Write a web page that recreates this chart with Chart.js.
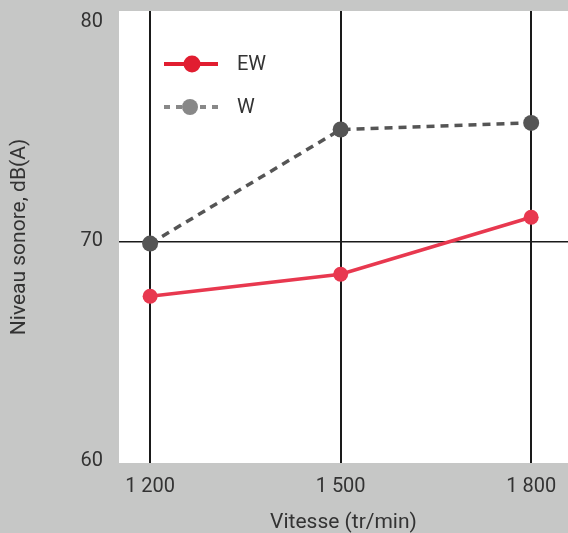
<!DOCTYPE html>
<html>
<head>
<meta charset="utf-8">
<script src="https://cdn.jsdelivr.net/npm/chart.js@4/dist/chart.umd.min.js"></script>
<style>
  html, body { margin: 0; padding: 0; background: #c6c7c6; }
  #wrap { width: 568px; height: 533px; position: relative; }
</style>
</head>
<body>
<div id="wrap"><canvas id="chart"></canvas></div>
<script>
// data
const speeds = [1200, 1500, 1800];
const ewLevels = [67.5, 68.5, 71.1];
const wLevels = [69.9, 75.1, 75.4];
const yTicks = [60, 70, 80];

const FONT = 'Roboto, "DejaVu Sans", sans-serif';
const INK = '#333';

const toPoints = (vals) => speeds.map((s, i) => ({ x: s, y: vals[i] }));

// white plot panel behind everything
const plotBg = {
  id: 'plotBg',
  beforeDraw(chart) {
    const { ctx, chartArea: a } = chart;
    ctx.save();
    ctx.fillStyle = '#fff';
    ctx.fillRect(a.left, a.top, a.right - a.left, a.bottom - a.top);
    ctx.restore();
  },
};

// legend with a line through the marker, drawn inside the plot
const lineLegend = {
  id: 'lineLegend',
  afterDraw(chart) {
    const { ctx } = chart;
    const items = [
      { label: 'EW', color: '#e11d30', dash: [], y: 64, cx: 192, r: 8.5 },
      { label: 'W', color: '#888', dash: [6, 6], y: 107, cx: 190, r: 8 },
    ];
    ctx.save();
    items.forEach((it) => {
      ctx.strokeStyle = it.color;
      ctx.lineWidth = 4;
      ctx.setLineDash(it.dash);
      ctx.beginPath();
      ctx.moveTo(164, it.y);
      ctx.lineTo(218, it.y);
      ctx.stroke();
      ctx.setLineDash([]);
      ctx.fillStyle = it.color;
      ctx.beginPath();
      ctx.arc(it.cx, it.y, it.r, 0, Math.PI * 2);
      ctx.fill();
      ctx.fillStyle = INK;
      ctx.font = '20px ' + FONT;
      ctx.textBaseline = 'middle';
      ctx.fillText(it.label, 237, it.y + 1);
    });
    ctx.restore();
  },
};

new Chart(document.getElementById('chart'), {
  type: 'line',
  data: {
    datasets: [
      {
        label: 'EW',
        data: toPoints(ewLevels),
        borderColor: '#e8384f',
        backgroundColor: '#e8384f',
        borderWidth: 3.5,
        pointRadius: 7.5,
        pointHoverRadius: 7.5,
        pointBorderWidth: 0,
      },
      {
        label: 'W',
        data: toPoints(wLevels),
        borderColor: '#555',
        backgroundColor: '#555',
        borderWidth: 3.5,
        borderDash: [8, 6],
        pointRadius: 8,
        pointHoverRadius: 8,
        pointBorderWidth: 0,
      },
    ],
  },
  options: {
    responsive: true,
    maintainAspectRatio: false,
    animation: false,
    layout: { autoPadding: false, padding: { top: 11, right: 0, left: 0, bottom: 0 } },
    plugins: { legend: { display: false }, tooltip: { enabled: false } },
    scales: {
      x: {
        type: 'linear',
        min: 1151,
        max: 1858,
        afterBuildTicks: (s) => { s.ticks = speeds.map((v) => ({ value: v })); },
        afterFit: (s) => {
          s.height = 70;
          s.paddingLeft = 0;
          s.paddingRight = 0;
        },
        border: { display: false },
        grid: { color: '#1a1a1a', lineWidth: 2, drawTicks: false },
        ticks: {
          padding: 12,
          color: INK,
          font: { family: FONT, size: 20 },
          callback: (v) => String(v).replace(/\B(?=(\d{3})+$)/, ' '),
        },
        title: {
          display: true,
          text: 'Vitesse (tr/min)',
          color: INK,
          font: { family: FONT, size: 21 },
          padding: { top: -2, bottom: -2 },
        },
      },
      y: {
        min: 59.9,
        max: 80.5,
        afterBuildTicks: (s) => { s.ticks = yTicks.map((v) => ({ value: v })); },
        afterFit: (s) => {
          s.width = 119;
          s.paddingTop = 0;
          s.paddingBottom = 0;
        },
        border: { display: false },
        grid: {
          drawTicks: false,
          lineWidth: 1.5,
          color: (c) => (c.tick && c.tick.value === 70 ? '#1a1a1a' : 'rgba(0,0,0,0)'),
        },
        ticks: {
          padding: 16,
          color: INK,
          font: { family: FONT, size: 20 },
        },
        title: {
          display: true,
          text: 'Niveau sonore, dB(A)',
          color: INK,
          font: { family: FONT, size: 21 },
          padding: { top: 7, bottom: 0 },
        },
      },
    },
  },
  plugins: [plotBg, lineLegend],
});
</script>
</body>
</html>
